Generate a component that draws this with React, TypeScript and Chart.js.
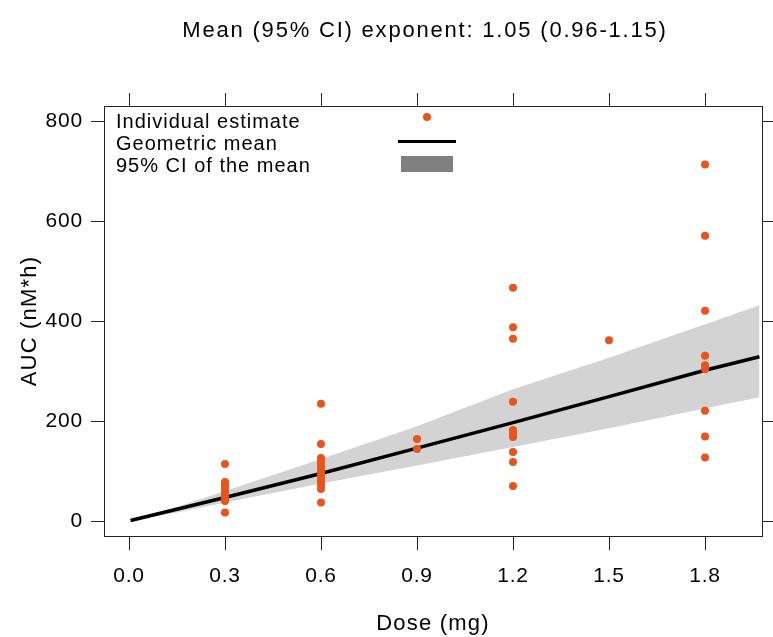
import React, { useEffect, useRef } from 'react';
import { Chart, registerables } from 'chart.js';

Chart.register(...registerables);

// ---- data ----
const titleText = 'Mean (95% CI) exponent: 1.05 (0.96-1.15)';
const xTitle = 'Dose (mg)';
const yTitle = 'AUC (nM*h)';
const xTicks = [0, 0.3, 0.6, 0.9, 1.2, 1.5, 1.8];
const yTicks = [0, 200, 400, 600, 800];

const dose03 = 0.3;
const auc03 = [114, 78, 73, 68, 63, 58, 53, 48, 44, 40, 17];
const dose06 = 0.6;
const auc06 = [235, 154, 126, 120, 114, 108, 102, 96, 90, 84, 78, 72, 64, 37];
const dose09 = 0.9;
const auc09 = [164, 144];
const dose12 = 1.2;
const auc12 = [467, 388, 365, 239, 182, 175, 168, 138, 118, 70];
const dose15 = 1.5;
const auc15 = [362];
const dose18 = 1.8;
const auc18 = [714, 571, 421, 331, 312, 304, 221, 169, 127];

const meanDose = [0.005, 0.3, 0.6, 0.9, 1.2, 1.5, 1.8, 1.97];
const meanAUC = [1, 47, 95, 146, 197, 249, 302, 329];

const bandDose = [0.005, 0.15, 0.3, 0.6, 0.9, 1.2, 1.5, 1.97];
const bandLower = [1, 17, 37, 75, 111, 148, 186, 248];
const bandUpper = [1.5, 28, 60, 124, 190, 264, 327, 432];

const legendLabels = ['Individual estimate', 'Geometric mean', '95% CI of the mean'];

// ---- styles ----
const FONT = "'Liberation Sans', Arial, sans-serif";
const DOT = '#E8541A';
const BAND = '#D3D3D3';
const FRAME = '#222222';

const framePlugin = {
  id: 'framePlugin',
  beforeDraw(chart: any) {
    chart.ctx.letterSpacing = '0.8px';
  },
  afterDraw(chart: any) {
    const ctx = chart.ctx;
    const { left, right, top, bottom } = chart.chartArea;
    const xs = chart.scales.x;
    const ys = chart.scales.y;
    const TL = 13;
    ctx.save();
    ctx.strokeStyle = FRAME;
    ctx.lineWidth = 1;
    ctx.strokeRect(Math.round(left) + 0.5, Math.round(top) + 0.5, Math.round(right - left), Math.round(bottom - top));
    ctx.beginPath();
    xTicks.forEach((v) => {
      const px = Math.round(xs.getPixelForValue(v)) + 0.5;
      ctx.moveTo(px, bottom);
      ctx.lineTo(px, bottom + TL + 1);
      ctx.moveTo(px, top);
      ctx.lineTo(px, top - TL);
    });
    yTicks.forEach((v) => {
      const py = Math.round(ys.getPixelForValue(v)) + 0.5;
      ctx.moveTo(left, py);
      ctx.lineTo(left - TL, py);
      ctx.moveTo(right, py);
      ctx.lineTo(right + TL, py);
    });
    ctx.stroke();

    ctx.fillStyle = '#000';
    ctx.textAlign = 'center';
    ctx.textBaseline = 'middle';

    // title
    ctx.letterSpacing = '1.8px';
    ctx.font = `22px ${FONT}`;
    ctx.fillText(titleText, 425, 31);

    // axis titles
    ctx.letterSpacing = '1.2px';
    ctx.font = `22px ${FONT}`;
    ctx.fillText(xTitle, (left + right) / 2, 624);
    ctx.save();
    ctx.translate(30, (top + bottom) / 2);
    ctx.rotate(-Math.PI / 2);
    ctx.fillText(yTitle, 0, 0);
    ctx.restore();

    // legend
    ctx.letterSpacing = '1px';
    ctx.font = `20px ${FONT}`;
    ctx.textAlign = 'left';
    const rowY = [122, 144, 166];
    legendLabels.forEach((t, i) => ctx.fillText(t, 116, rowY[i]));
    // dot symbol
    ctx.fillStyle = DOT;
    ctx.beginPath();
    ctx.arc(427, 117, 4, 0, Math.PI * 2);
    ctx.fill();
    // line symbol
    ctx.strokeStyle = '#000';
    ctx.lineWidth = 3;
    ctx.beginPath();
    ctx.moveTo(398, 141.5);
    ctx.lineTo(456, 141.5);
    ctx.stroke();
    // band symbol
    ctx.fillStyle = '#808080';
    ctx.fillRect(401, 156, 52, 16);
    ctx.restore();
    ctx.letterSpacing = '0px';
  },
};

function pts(d: number, arr: number[]) {
  return arr.map((y) => ({ x: d, y }));
}

export default function App() {
  const ref = useRef<HTMLCanvasElement>(null);
  useEffect(() => {
    document.body.style.margin = '0';
    const points = [
      ...pts(dose03, auc03),
      ...pts(dose06, auc06),
      ...pts(dose09, auc09),
      ...pts(dose12, auc12),
      ...pts(dose15, auc15),
      ...pts(dose18, auc18),
    ];
    const chart = new Chart(ref.current as HTMLCanvasElement, {
      type: 'scatter',
      data: {
        datasets: [
          {
            label: 'Individual estimate',
            data: points,
            backgroundColor: DOT,
            borderColor: DOT,
            pointRadius: 4,
            pointBorderWidth: 0,
            order: 0,
          } as any,
          {
            type: 'line',
            label: 'Geometric mean',
            data: meanDose.map((x, i) => ({ x, y: meanAUC[i] })),
            borderColor: '#000',
            borderWidth: 3.5,
            pointRadius: 0,
            fill: false,
            tension: 0,
            order: 1,
          } as any,
          {
            type: 'line',
            label: 'lower',
            data: bandDose.map((x, i) => ({ x, y: bandLower[i] })),
            borderWidth: 0,
            borderColor: 'rgba(0,0,0,0)',
            pointRadius: 0,
            fill: false,
            order: 3,
          } as any,
          {
            type: 'line',
            label: '95% CI of the mean',
            data: bandDose.map((x, i) => ({ x, y: bandUpper[i] })),
            borderWidth: 0,
            borderColor: 'rgba(0,0,0,0)',
            backgroundColor: BAND,
            pointRadius: 0,
            fill: '-1',
            order: 2,
          } as any,
        ],
      },
      options: {
        responsive: false,
        animation: false,
        layout: { padding: { top: 106, right: 11, left: 0, bottom: 0 } },
        plugins: {
          legend: { display: false },
          tooltip: { enabled: false },
          title: { display: false },
        },
        scales: {
          x: {
            type: 'linear',
            min: -0.078,
            max: 1.978,
            afterBuildTicks: (s: any) => {
              s.ticks = xTicks.map((v) => ({ value: v }));
            },
            afterFit: (s: any) => {
              s.height = 101;
            },
            grid: { display: false, drawTicks: false },
            border: { display: false },
            ticks: {
              padding: 28,
              color: '#000',
              font: { family: FONT, size: 21 },
              maxRotation: 0,
              autoSkip: false,
              callback: (v: any) => Number(v).toFixed(1),
            },
          },
          y: {
            type: 'linear',
            min: -30,
            max: 831,
            afterBuildTicks: (s: any) => {
              s.ticks = yTicks.map((v) => ({ value: v }));
            },
            afterFit: (s: any) => {
              s.width = 104;
            },
            grid: { display: false, drawTicks: false },
            border: { display: false },
            ticks: {
              padding: 21,
              color: '#000',
              font: { family: FONT, size: 21 },
              autoSkip: false,
              callback: (v: any) => String(v),
            },
          },
        },
      } as any,
      plugins: [framePlugin],
    });
    return () => chart.destroy();
  }, []);
  return (
    <div style={{ position: 'absolute', left: 0, top: 0, width: 773, height: 637 }}>
      <canvas ref={ref} width={773} height={637} style={{ display: 'block' }} />
    </div>
  );
}
